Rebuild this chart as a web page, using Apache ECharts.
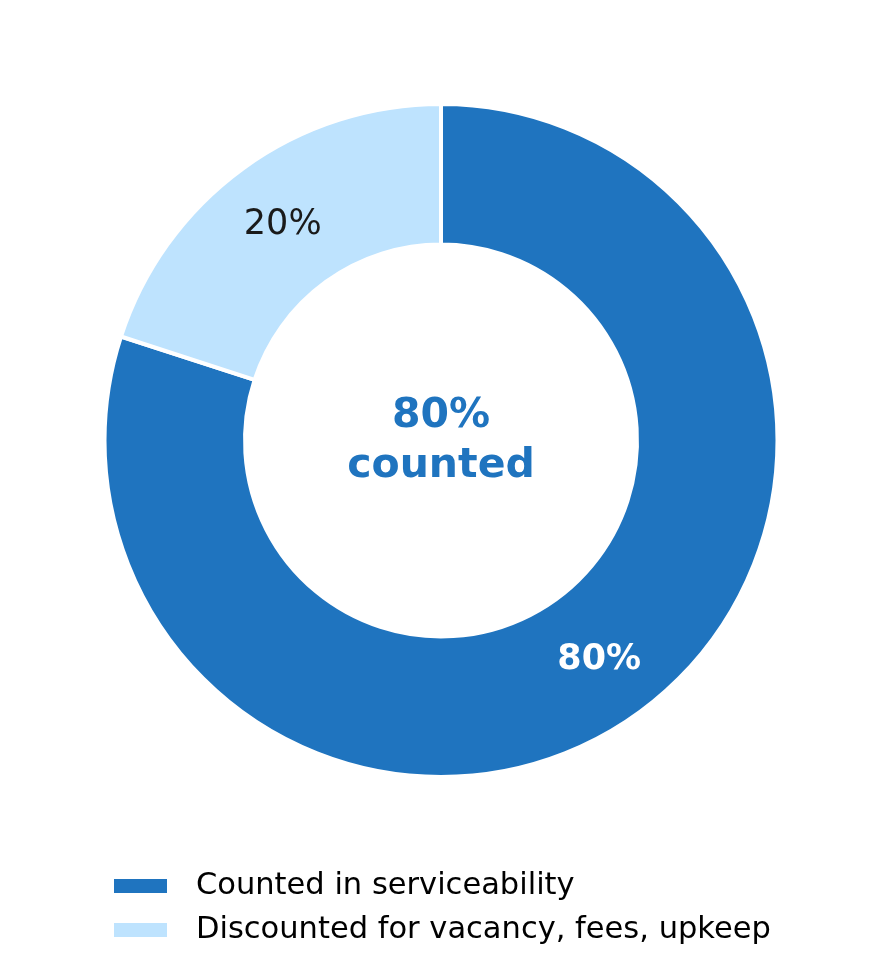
<!DOCTYPE html>
<html>
<head>
<meta charset="utf-8">
<style>
  html, body { margin: 0; padding: 0; background: #fff; }
  #chart { width: 882px; height: 978px; }
</style>
<script src="https://cdn.jsdelivr.net/npm/echarts@6/dist/echarts.min.js"></script>
</head>
<body>
<div id="chart"></div>
<script>
const categories = ["Counted in serviceability", "Discounted for vacancy, fees, upkeep"];
const shares = [80, 20];
const sliceColors = ["#1f74bf", "#bee3fe"];
const labelColors = ["#ffffff", "#1a1a1a"];
const labelWeights = ["bold", "normal"];
const centerText = "80%\ncounted";

const chart = echarts.init(document.getElementById("chart"));
const font = "DejaVu Sans, sans-serif";

chart.setOption({
  backgroundColor: "#fff",
  animation: false,
  legend: {
    orient: "vertical",
    left: 107,
    top: 865,
    icon: "rect",
    itemWidth: 55,
    itemHeight: 16,
    itemGap: 12,
    textStyle: { fontFamily: font, fontSize: 30.5, color: "#000", lineHeight: 32, padding: [0, 0, 0, 23] },
    data: categories
  },
  graphic: [{
    type: "text",
    x: 441,
    y: 441,
    style: {
      text: centerText,
      font: "bold 41px " + font,
      fill: "#1f74bf",
      align: "center",
      verticalAlign: "middle",
      lineHeight: 50
    }
  }],
  series: [{
    type: "pie",
    center: [441, 440.5],
    radius: [196, 336.5],
    startAngle: 90,
    clockwise: true,
    avoidLabelOverlap: false,
    itemStyle: { borderColor: "#fff", borderWidth: 4 },
    label: {
      position: "inside",
      fontFamily: font,
      fontSize: 35,
      offset: [0, 2],
      formatter: p => p.value + "%"
    },
    labelLine: { show: false },
    emphasis: { disabled: true },
    data: categories.map((name, i) => ({
      name,
      value: shares[i],
      itemStyle: { color: sliceColors[i] },
      label: { color: labelColors[i], fontWeight: labelWeights[i] }
    }))
  }]
});
</script>
</body>
</html>
